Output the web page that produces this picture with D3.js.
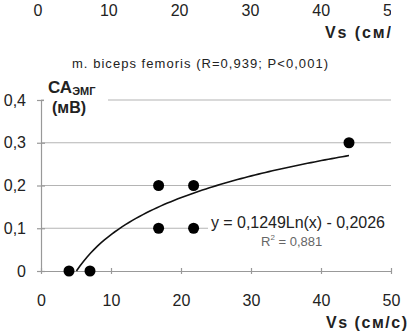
<!DOCTYPE html>
<html>
<head>
<meta charset="utf-8">
<script src="https://cdn.jsdelivr.net/npm/d3@7"></script>
<style>
  body { margin: 0; background: #fff; }
  svg { display: block; font-family: "Liberation Sans", Arial, sans-serif; }
</style>
</head>
<body>
<div id="chart"></div>
<script>
// data
const speed = [4, 7, 16.8, 16.8, 21.8, 21.8, 44];      // Vs (см/с)
const amplitude = [0, 0, 0.2, 0.1, 0.2, 0.1, 0.3];     // CA эмг (мВ)
const xTicks = [0, 10, 20, 30, 40, 50];
const yTicks = [0, 0.1, 0.2, 0.3, 0.4];
const yTickLabels = ["0", "0,1", "0,2", "0,3", "0,4"];
// logarithmic trend shown on the chart
const trendA = 0.1249, trendB = -0.2026;
const trendFrom = 5.06, trendTo = 44;

const width = 409, height = 336;

const svg = d3.select("#chart")
  .append("svg")
    .attr("width", width)
    .attr("height", height);

// scales
const x = d3.scaleLinear().domain([0, 50]).range([41, 391]);
const y = d3.scaleLinear().domain([0, 0.4]).range([271, 100]);

// cut-off axis of the chart above (only its bottom shows)
const xTop = d3.scaleLinear().domain([0, 50]).range([38, 392]);
svg.append("clipPath").attr("id", "topclip")
  .append("rect").attr("x", 0).attr("y", 0).attr("width", 391).attr("height", 50);
const upper = svg.append("g").attr("clip-path", "url(#topclip)");
upper.selectAll("text.tt")
  .data(xTicks)
  .join("text")
    .attr("class", "tt")
    .attr("x", d => xTop(d))
    .attr("y", 16)
    .attr("text-anchor", "middle")
    .attr("font-size", 16)
    .attr("fill", "#222")
    .text(d => d);
upper.append("text")
  .attr("x", 325)
  .attr("y", 38)
  .attr("font-size", 16)
  .attr("font-weight", "bold")
  .attr("fill", "#222")
  .attr("textLength", 84)
  .text("Vs (см/с)");

// title
svg.append("text")
  .attr("x", 72)
  .attr("y", 68)
  .attr("font-size", 13)
  .attr("fill", "#222")
  .attr("textLength", 256)
  .text("m. biceps femoris (R=0,939; P<0,001)");

// gridlines
svg.append("g")
  .selectAll("line")
  .data(yTicks.slice(1))
  .join("line")
    .attr("x1", x(0))
    .attr("x2", x(50))
    .attr("y1", d => y(d))
    .attr("y2", d => y(d))
    .attr("stroke", "#b4b4b4")
    .attr("stroke-width", 1.2);

// y axis
const yAxis = svg.append("g")
  .attr("transform", `translate(${x(0)},0)`)
  .call(d3.axisLeft(y).tickValues(yTicks).tickSize(4).tickSizeOuter(0)
    .tickFormat((d, i) => yTickLabels[i]));
yAxis.select(".domain").attr("stroke", "#999").attr("stroke-width", 1.2);
yAxis.selectAll(".tick line").attr("stroke", "#999").attr("x2", 4).attr("x1", -4).attr("stroke-width", 1.2);
yAxis.selectAll(".tick text")
  .attr("x", -15)
  .attr("font-size", 16)
  .attr("font-family", "Liberation Sans, Arial, sans-serif")
  .attr("fill", "#222");

// x axis
const xAxis = svg.append("g")
  .attr("transform", `translate(0,${y(0)})`)
  .call(d3.axisBottom(x).tickValues(xTicks).tickSize(4).tickSizeOuter(0));
xAxis.select(".domain").attr("stroke", "#999").attr("stroke-width", 1.2);
xAxis.selectAll(".tick line").attr("stroke", "#999").attr("y1", -3).attr("y2", 3).attr("stroke-width", 1.2);
xAxis.selectAll(".tick text")
  .attr("y", 24)
  .attr("font-size", 16)
  .attr("font-family", "Liberation Sans, Arial, sans-serif")
  .attr("fill", "#222");

// y axis label with white box
svg.append("rect")
  .attr("x", 44).attr("y", 78).attr("width", 64).attr("height", 42)
  .attr("fill", "#fff");
const yLab = svg.append("text")
  .attr("x", 48)
  .attr("y", 93)
  .attr("font-size", 17)
  .attr("font-weight", "bold")
  .attr("fill", "#222");
yLab.append("tspan").text("СА");
yLab.append("tspan").attr("font-size", 11).attr("dy", 2).text("ЭМГ");
svg.append("text")
  .attr("x", 52)
  .attr("y", 113)
  .attr("font-size", 16)
  .attr("font-weight", "bold")
  .attr("fill", "#222")
  .text("(мВ)");

// x axis label
svg.append("text")
  .attr("x", 326)
  .attr("y", 328)
  .attr("font-size", 16)
  .attr("font-weight", "bold")
  .attr("fill", "#222")
  .attr("textLength", 81)
  .text("Vs (см/с)");

// trend line
const trendX = d3.range(trendFrom, trendTo, 0.5).concat([trendTo]);
svg.append("path")
  .datum(trendX)
  .attr("fill", "none")
  .attr("stroke", "#111")
  .attr("stroke-width", 1.6)
  .attr("d", d3.line()
    .x(d => x(d))
    .y(d => y(trendA * Math.log(d) + trendB)));

// points
svg.append("g")
  .selectAll("circle")
  .data(speed.map((s, i) => [s, amplitude[i]]))
  .join("circle")
    .attr("cx", d => x(d[0]))
    .attr("cy", d => y(d[1]))
    .attr("r", 5.5)
    .attr("fill", "#000");

// equation box
svg.append("rect")
  .attr("x", 208).attr("y", 211).attr("width", 185).attr("height", 37)
  .attr("fill", "#fff");
svg.append("text")
  .attr("x", 211)
  .attr("y", 228)
  .attr("font-size", 16)
  .attr("fill", "#222")
  .attr("textLength", 174)
  .text("y = 0,1249Ln(x) - 0,2026");
const r2 = svg.append("text")
  .attr("x", 261)
  .attr("y", 246)
  .attr("font-size", 13)
  .attr("fill", "#666");
r2.append("tspan").text("R");
r2.append("tspan").attr("font-size", 8).attr("dy", -6).text("2");
r2.append("tspan").attr("dy", 6).text(" = 0,881");
</script>
</body>
</html>
